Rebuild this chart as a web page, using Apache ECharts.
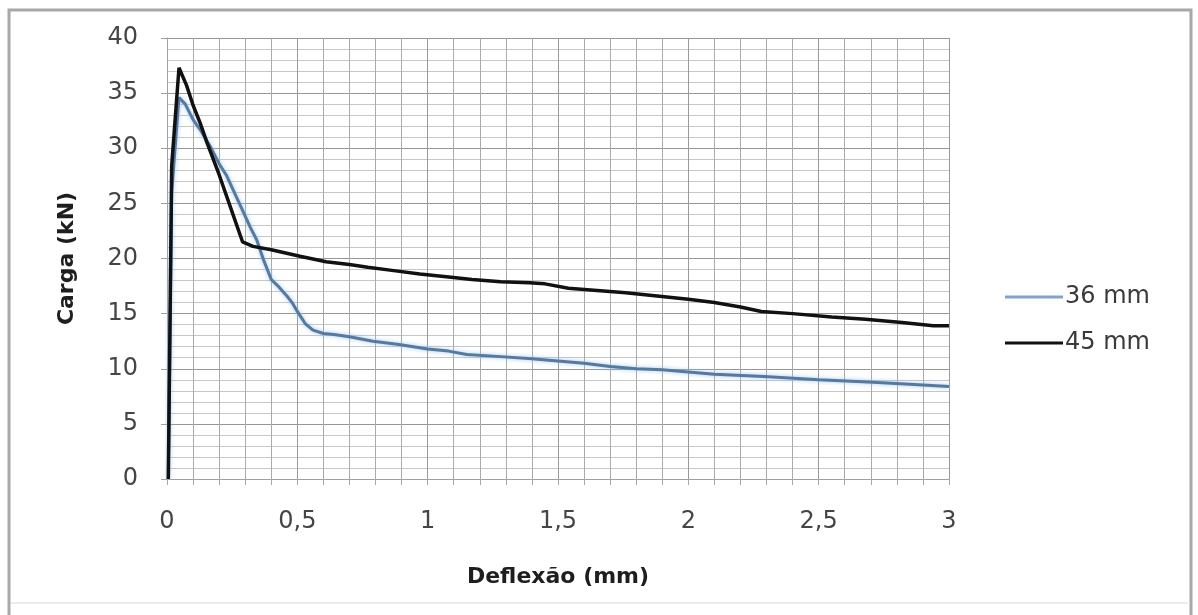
<!DOCTYPE html>
<html>
<head>
<meta charset="utf-8">
<script src="https://cdn.jsdelivr.net/npm/echarts@6/dist/echarts.min.js"></script>
<style>
html,body{margin:0;padding:0;background:#fff;}
#chart{width:1198px;height:615px;}
</style>
</head>
<body>
<div id="chart"></div>
<script>
// Deflexão (mm) and Carga (kN)
var seriesNames = ['36 mm', '45 mm'];
var x36 = [0.005, 0.018, 0.046, 0.07, 0.1, 0.127, 0.165, 0.2, 0.229, 0.26, 0.293, 0.32, 0.344, 0.37, 0.4, 0.43, 0.46, 0.48, 0.5, 0.53, 0.56, 0.6, 0.64, 0.7, 0.79, 0.89, 1.0, 1.08, 1.15, 1.28, 1.4, 1.5, 1.6, 1.7, 1.8, 1.9, 2.0, 2.1, 2.29, 2.5, 2.69, 2.85, 3.0];
var y36 = [0, 26, 34.6, 34.0, 32.6, 31.7, 30.2, 28.6, 27.5, 25.9, 24.2, 22.8, 21.7, 19.9, 18.1, 17.4, 16.6, 16.0, 15.2, 14.1, 13.5, 13.2, 13.1, 12.9, 12.5, 12.2, 11.8, 11.6, 11.3, 11.1, 10.9, 10.7, 10.5, 10.2, 10.0, 9.9, 9.7, 9.5, 9.3, 9.0, 8.8, 8.6, 8.4];
var x45 = [0.005, 0.018, 0.046, 0.075, 0.1, 0.127, 0.152, 0.2, 0.25, 0.29, 0.33, 0.4, 0.51, 0.61, 0.7, 0.77, 0.87, 0.97, 1.09, 1.17, 1.28, 1.39, 1.45, 1.54, 1.65, 1.76, 1.88, 2.0, 2.1, 2.2, 2.28, 2.4, 2.55, 2.68, 2.82, 2.94, 3.0];
var y45 = [0, 28.4, 37.3, 35.7, 33.9, 32.3, 30.6, 27.6, 24.2, 21.5, 21.1, 20.8, 20.2, 19.7, 19.45, 19.2, 18.9, 18.6, 18.3, 18.1, 17.9, 17.8, 17.7, 17.3, 17.1, 16.9, 16.6, 16.3, 16.0, 15.6, 15.2, 15.0, 14.7, 14.5, 14.2, 13.9, 13.9];
var xTitle = 'Deflexão (mm)';
var yTitle = 'Carga (kN)';

function pairs(xs, ys) {
  var out = [];
  for (var i = 0; i < xs.length; i++) out.push([xs[i], ys[i]]);
  return out;
}

var FONT = 'DejaVu Sans';
var chart = echarts.init(document.getElementById('chart'));
chart.setOption({
  animation: false,
  backgroundColor: '#ffffff',
  grid: { left: 167, right: 249, top: 38, bottom: 136, containLabel: false },
  graphic: [
    { type: 'rect', shape: { x: 9, y: 10, width: 1182, height: 640 }, style: { fill: 'none', stroke: '#a8a8a8', lineWidth: 3 }, silent: true },
    { type: 'line', shape: { x1: 11, y1: 603, x2: 1188, y2: 603 }, style: { stroke: '#ececec', lineWidth: 2 }, silent: true }
  ],
  legend: {
    orient: 'vertical',
    left: 1000,
    top: 280,
    icon: 'rect',
    itemWidth: 58,
    itemHeight: 3,
    itemGap: 22,
    textStyle: { fontFamily: FONT, fontSize: 24, color: '#3a3a3a', lineHeight: 24, padding: [0, 0, 0, -3] },
    data: seriesNames
  },
  xAxis: {
    type: 'value',
    min: 0, max: 3, interval: 0.5,
    name: xTitle,
    nameLocation: 'middle',
    nameGap: 87,
    nameTextStyle: { fontFamily: FONT, fontSize: 22, fontWeight: 'bold', color: '#1e1e1e' },
    axisLine: { show: true, onZero: false, lineStyle: { color: '#a0a0a0', width: 1 } },
    axisTick: { show: true, length: 6, lineStyle: { color: '#a8a8a8' } },
    minorTick: { show: true, splitNumber: 5, length: 6, lineStyle: { color: '#a8a8a8' } },
    axisLabel: { margin: 31, fontFamily: FONT, fontSize: 24, color: '#454545',
      formatter: function (v) { return String(v).replace('.', ','); } },
    splitLine: { show: true, lineStyle: { color: '#9a9a9a', width: 1 } },
    minorSplitLine: { show: true, lineStyle: { color: '#aaaaaa', width: 1 } }
  },
  yAxis: {
    type: 'value',
    min: 0, max: 40, interval: 5,
    name: yTitle,
    nameLocation: 'middle',
    nameGap: 89,
    nameTextStyle: { fontFamily: FONT, fontSize: 22, fontWeight: 'bold', color: '#1e1e1e' },
    axisLine: { show: true, lineStyle: { color: '#a0a0a0', width: 1 } },
    axisTick: { show: true, length: 6, lineStyle: { color: '#a0a0a0' } },
    minorTick: { show: true, splitNumber: 5, length: 0 },
    axisLabel: { margin: 29, fontFamily: FONT, fontSize: 24, color: '#454545' },
    splitLine: { show: true, lineStyle: { color: '#969696', width: 1 } },
    minorSplitLine: { show: true, lineStyle: { color: '#c6c6c6', width: 1 } }
  },
  series: [
    {
      name: seriesNames[0],
      type: 'line',
      data: pairs(x36, y36),
      showSymbol: false,
      symbol: 'none',
      smooth: false,
      z: 3,
      color: '#7fa3cc',
      lineStyle: { color: '#56799f', width: 3, shadowColor: 'rgba(150,195,240,0.9)', shadowBlur: 4 }
    },
    {
      name: seriesNames[1],
      type: 'line',
      data: pairs(x45, y45),
      showSymbol: false,
      symbol: 'none',
      smooth: false,
      z: 4,
      color: '#111111',
      lineStyle: { color: '#111111', width: 3.5 }
    }
  ]
});
</script>
</body>
</html>
